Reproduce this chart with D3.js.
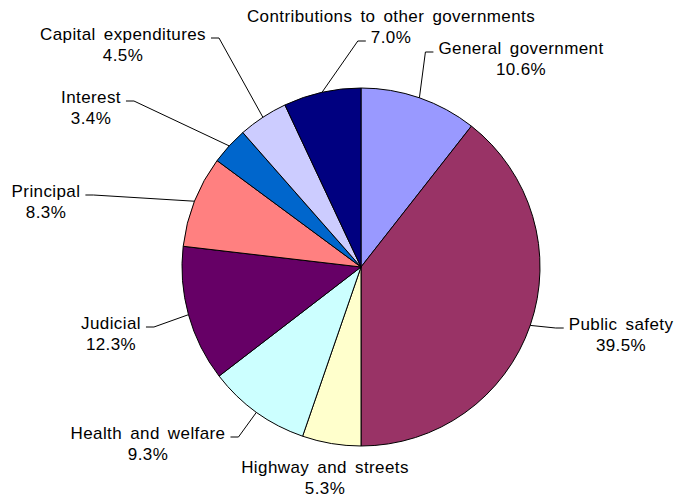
<!DOCTYPE html>
<html>
<head>
<meta charset="utf-8">
<script src="https://cdn.jsdelivr.net/npm/d3@7"></script>
<style>
  body { margin: 0; background: #fff; }
  text { font-family: "Liberation Sans", Arial, sans-serif; font-size: 17px; letter-spacing: 0.4px; word-spacing: 3px; fill: #000; }
</style>
</head>
<body>
<div id="chart"></div>
<script>
var categories = ["General government", "Public safety", "Highway and streets", "Health and welfare",
                  "Judicial", "Principal", "Interest", "Capital expenditures", "Contributions to other governments"];
var shares = [10.6, 39.5, 5.3, 9.3, 12.3, 8.3, 3.4, 4.5, 7.0];
var colors = ["#9999FF", "#993366", "#FFFFCC", "#CCFFFF", "#660066", "#FF8080", "#0066CC", "#CCCCFF", "#000080"];

// label placement: centre x, first line y, which side the leader leaves from, which line
var labelPos = [
  {x: 521, y: 48, side: "left", line: 0},
  {x: 621, y: 324, side: "left", line: 0},
  {x: 325, y: 467, side: null, line: 0},
  {x: 148, y: 433, side: "right", line: 0},
  {x: 111, y: 323, side: "right", line: 0},
  {x: 46, y: 191, side: "right", line: 0},
  {x: 91, y: 97, side: "right", line: 0},
  {x: 123, y: 34, side: "right", line: 0},
  {x: 391, y: 16, side: "left", line: 1}
];

var width = 680, height = 497;
var cx = 361, cy = 267, r = 179;
var lineGap = 21;

var svg = d3.select("#chart").append("svg")
    .attr("width", width)
    .attr("height", height);

var pie = d3.pie().sort(null).value(function(d) { return d; });
var arcs = pie(shares);
var arc = d3.arc().innerRadius(0).outerRadius(r);
var edge = d3.arc().innerRadius(r).outerRadius(r);

var g = svg.append("g").attr("transform", "translate(" + cx + "," + cy + ")");

g.selectAll("path")
  .data(arcs)
  .enter()
  .append("path")
  .attr("d", arc)
  .style("fill", function(d, i) { return colors[i]; })
  .style("stroke", "#000")
  .style("stroke-width", 1);

var labels = svg.append("g");
arcs.forEach(function(d, i) {
  var p = labelPos[i];
  var t = labels.append("text").attr("text-anchor", "middle");
  var l1 = t.append("tspan").attr("x", p.x).attr("y", p.y).attr("dy", "0.35em").text(categories[i]);
  var l2 = t.append("tspan").attr("x", p.x).attr("y", p.y + lineGap).attr("dy", "0.35em")
    .text(shares[i].toFixed(1) + "%");
  if (!p.side) return;
  var tsp = p.line === 0 ? l1 : l2;
  var w = tsp.node().getComputedTextLength();
  var ly = p.y + p.line * lineGap + 4;
  var ax = p.side === "left" ? p.x - w / 2 - 5 : p.x + w / 2 + 5;
  var bx = p.side === "left" ? ax - 8 : ax + 8;
  var c = edge.centroid(d);
  svg.append("polyline")
    .attr("points", [[ax, ly], [bx, ly], [cx + c[0], cy + c[1]]].map(function(q) { return q.join(","); }).join(" "))
    .style("fill", "none")
    .style("stroke", "#000")
    .style("stroke-width", 1);
});
</script>
</body>
</html>
